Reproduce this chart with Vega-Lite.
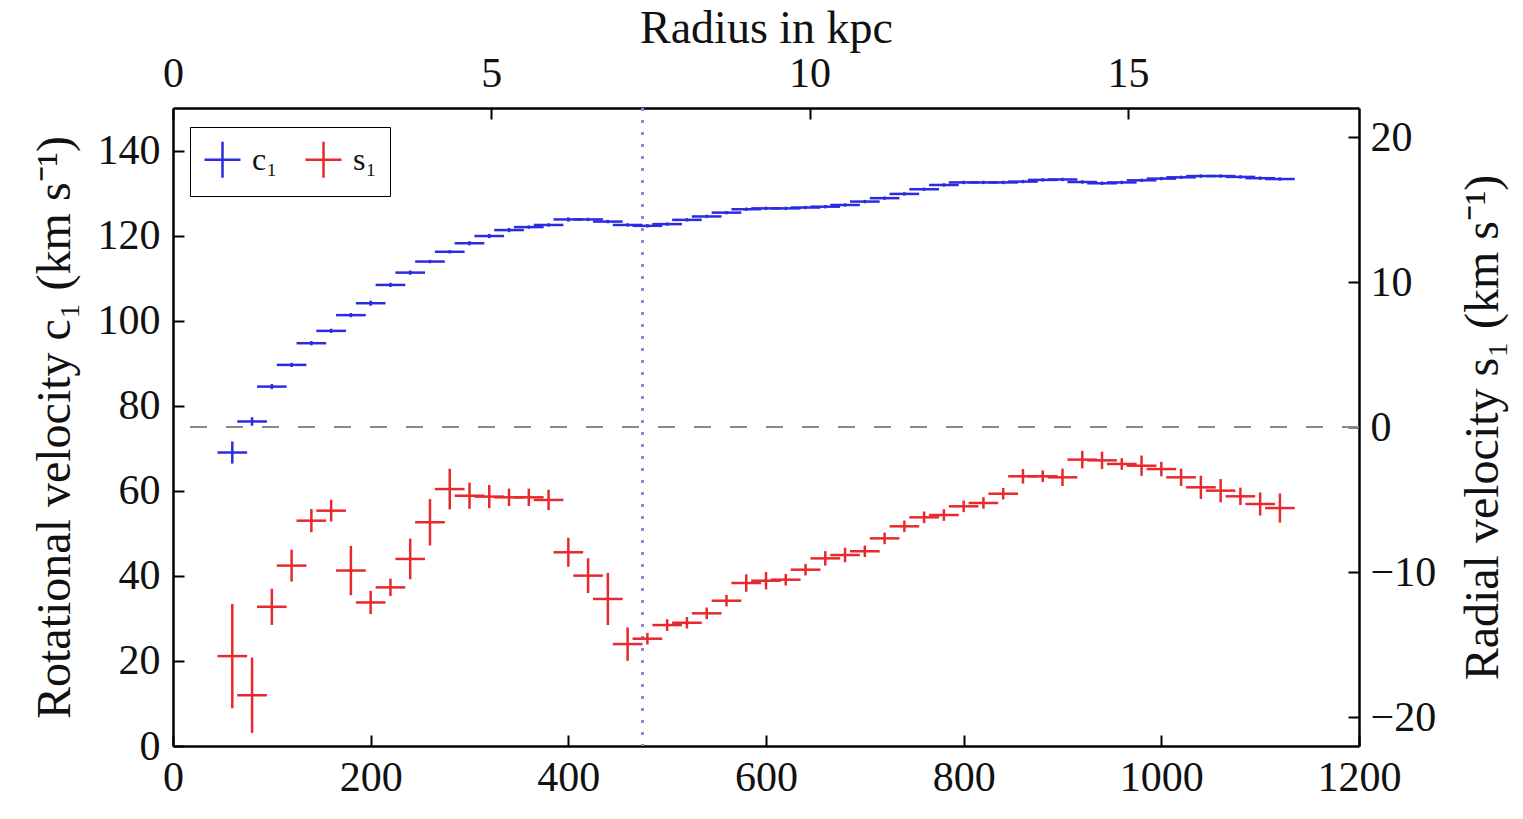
{
  "$schema": "https://vega.github.io/schema/vega-lite/v6.json",
  "autosize": {"type": "none"},
  "padding": {"left": 173, "top": 108, "right": 164, "bottom": 73},
  "width": 1186,
  "height": 638,
  "background": "white",
  "config": {
    "font": "Liberation Serif",
    "view": {"stroke": null},
    "axis": {
      "grid": false,
      "domainColor": "black",
      "domainWidth": 2.5,
      "tickColor": "black",
      "tickWidth": 2,
      "tickSize": -11,
      "labelFontSize": 42,
      "labelColor": "#111111",
      "labelFlush": false,
      "labelOverlap": false,
      "titleFontSize": 48,
      "titleFontWeight": "normal",
      "titleColor": "#111111"
    }
  },
  "data": {
    "values": [
      {"r": 60, "xe": 15, "c1": 69.0, "c1e": 2.6, "s1": -15.8, "s1e": 3.6},
      {"r": 80, "xe": 15, "c1": 76.3, "c1e": 1.0, "s1": -18.5, "s1e": 2.6},
      {"r": 100, "xe": 15, "c1": 84.5, "c1e": 0.6, "s1": -12.4, "s1e": 1.25},
      {"r": 120, "xe": 15, "c1": 89.6, "c1e": 0.5, "s1": -9.56, "s1e": 1.1},
      {"r": 140, "xe": 15, "c1": 94.7, "c1e": 0.5, "s1": -6.46, "s1e": 0.8},
      {"r": 160, "xe": 15, "c1": 97.6, "c1e": 0.5, "s1": -5.77, "s1e": 0.75},
      {"r": 180, "xe": 15, "c1": 101.3, "c1e": 0.5, "s1": -9.9, "s1e": 1.7},
      {"r": 200, "xe": 15, "c1": 104.1, "c1e": 0.6, "s1": -12.1, "s1e": 0.8},
      {"r": 220, "xe": 15, "c1": 108.4, "c1e": 0.5, "s1": -11.06, "s1e": 0.6},
      {"r": 240, "xe": 15, "c1": 111.3, "c1e": 0.5, "s1": -9.1, "s1e": 1.4},
      {"r": 260, "xe": 15, "c1": 113.9, "c1e": 0.4, "s1": -6.57, "s1e": 1.6},
      {"r": 280, "xe": 15, "c1": 116.2, "c1e": 0.4, "s1": -4.28, "s1e": 1.4},
      {"r": 300, "xe": 15, "c1": 118.2, "c1e": 0.5, "s1": -4.74, "s1e": 0.9},
      {"r": 320, "xe": 15, "c1": 119.9, "c1e": 0.5, "s1": -4.8, "s1e": 0.8},
      {"r": 340, "xe": 15, "c1": 121.3, "c1e": 0.5, "s1": -4.85, "s1e": 0.6},
      {"r": 360, "xe": 15, "c1": 122.0, "c1e": 0.4, "s1": -4.85, "s1e": 0.6},
      {"r": 380, "xe": 15, "c1": 122.5, "c1e": 0.4, "s1": -5.03, "s1e": 0.7},
      {"r": 400, "xe": 15, "c1": 123.8, "c1e": 0.5, "s1": -8.64, "s1e": 1.0},
      {"r": 420, "xe": 15, "c1": 123.8, "c1e": 0.4, "s1": -10.25, "s1e": 1.2},
      {"r": 440, "xe": 15, "c1": 123.3, "c1e": 0.4, "s1": -11.86, "s1e": 1.8},
      {"r": 460, "xe": 15, "c1": 122.5, "c1e": 0.4, "s1": -14.97, "s1e": 1.15},
      {"r": 480, "xe": 15, "c1": 122.3, "c1e": 0.4, "s1": -14.6, "s1e": 0.4},
      {"r": 500, "xe": 15, "c1": 122.7, "c1e": 0.4, "s1": -13.66, "s1e": 0.4},
      {"r": 520, "xe": 15, "c1": 123.7, "c1e": 0.4, "s1": -13.5, "s1e": 0.4},
      {"r": 540, "xe": 15, "c1": 124.5, "c1e": 0.4, "s1": -12.85, "s1e": 0.4},
      {"r": 560, "xe": 15, "c1": 125.4, "c1e": 0.4, "s1": -11.98, "s1e": 0.4},
      {"r": 580, "xe": 15, "c1": 126.2, "c1e": 0.4, "s1": -10.76, "s1e": 0.6},
      {"r": 600, "xe": 15, "c1": 126.4, "c1e": 0.4, "s1": -10.6, "s1e": 0.6},
      {"r": 620, "xe": 15, "c1": 126.4, "c1e": 0.4, "s1": -10.53, "s1e": 0.4},
      {"r": 640, "xe": 15, "c1": 126.6, "c1e": 0.4, "s1": -9.84, "s1e": 0.4},
      {"r": 660, "xe": 15, "c1": 126.8, "c1e": 0.4, "s1": -9.06, "s1e": 0.5},
      {"r": 680, "xe": 15, "c1": 127.2, "c1e": 0.4, "s1": -8.83, "s1e": 0.5},
      {"r": 700, "xe": 15, "c1": 128.0, "c1e": 0.4, "s1": -8.57, "s1e": 0.4},
      {"r": 720, "xe": 15, "c1": 128.8, "c1e": 0.4, "s1": -7.68, "s1e": 0.4},
      {"r": 740, "xe": 15, "c1": 129.8, "c1e": 0.4, "s1": -6.85, "s1e": 0.4},
      {"r": 760, "xe": 15, "c1": 130.9, "c1e": 0.4, "s1": -6.23, "s1e": 0.4},
      {"r": 780, "xe": 15, "c1": 131.9, "c1e": 0.4, "s1": -6.07, "s1e": 0.4},
      {"r": 800, "xe": 15, "c1": 132.5, "c1e": 0.4, "s1": -5.47, "s1e": 0.4},
      {"r": 820, "xe": 15, "c1": 132.5, "c1e": 0.4, "s1": -5.24, "s1e": 0.4},
      {"r": 840, "xe": 15, "c1": 132.5, "c1e": 0.4, "s1": -4.6, "s1e": 0.4},
      {"r": 860, "xe": 15, "c1": 132.7, "c1e": 0.4, "s1": -3.4, "s1e": 0.5},
      {"r": 880, "xe": 15, "c1": 133.1, "c1e": 0.4, "s1": -3.4, "s1e": 0.4},
      {"r": 900, "xe": 15, "c1": 133.2, "c1e": 0.4, "s1": -3.47, "s1e": 0.6},
      {"r": 920, "xe": 15, "c1": 132.6, "c1e": 0.4, "s1": -2.25, "s1e": 0.6},
      {"r": 940, "xe": 15, "c1": 132.3, "c1e": 0.4, "s1": -2.3, "s1e": 0.6},
      {"r": 960, "xe": 15, "c1": 132.5, "c1e": 0.4, "s1": -2.55, "s1e": 0.4},
      {"r": 980, "xe": 15, "c1": 133.0, "c1e": 0.4, "s1": -2.67, "s1e": 0.7},
      {"r": 1000, "xe": 15, "c1": 133.4, "c1e": 0.4, "s1": -2.9, "s1e": 0.5},
      {"r": 1020, "xe": 15, "c1": 133.7, "c1e": 0.4, "s1": -3.47, "s1e": 0.6},
      {"r": 1040, "xe": 15, "c1": 134.0, "c1e": 0.4, "s1": -4.16, "s1e": 0.8},
      {"r": 1060, "xe": 15, "c1": 134.0, "c1e": 0.4, "s1": -4.39, "s1e": 0.8},
      {"r": 1080, "xe": 15, "c1": 133.8, "c1e": 0.4, "s1": -4.78, "s1e": 0.6},
      {"r": 1100, "xe": 15, "c1": 133.5, "c1e": 0.4, "s1": -5.31, "s1e": 0.8},
      {"r": 1120, "xe": 15, "c1": 133.3, "c1e": 0.4, "s1": -5.59, "s1e": 1.0}
    ]
  },
  "layer": [
    {
      "mark": {"type": "rule", "color": "#8a8ad6", "strokeWidth": 2.5, "strokeDash": [3, 9]},
      "encoding": {
        "x": {"datum": 475, "type": "quantitative", "scale": {"domain": [0, 1200], "nice": false, "zero": false}, "axis": null}
      }
    },
    {
      "mark": {"type": "errorbar", "thickness": 2.5, "ticks": false},
      "encoding": {
        "x": {"field": "r", "type": "quantitative", "scale": {"domain": [0, 1200], "nice": false, "zero": false},
              "axis": {"orient": "bottom", "values": [0, 200, 400, 600, 800, 1000, 1200], "format": "d", "title": null, "labelPadding": 22}},
        "xError": {"field": "xe"},
        "y": {"field": "c1", "type": "quantitative", "scale": {"domain": [0, 150], "nice": false, "zero": false},
              "axis": {"orient": "left", "values": [0, 20, 40, 60, 80, 100, 120, 140], "title": "Rotational velocity c₁ (km s⁻¹)", "labelPadding": 24, "titlePadding": 18}},
        "color": {"datum": "c₁", "type": "nominal",
                  "scale": {"domain": ["c₁", "s₁"], "range": ["#2b2be0", "#e8282d"]},
                  "legend": {"orient": "none", "legendX": 17, "legendY": 19, "direction": "horizontal", "title": null,
                             "strokeColor": "black", "padding": 13, "fillColor": "white",
                             "symbolType": "M-1,0H1M0,-1V1", "symbolSize": 1296, "symbolStrokeWidth": 2.5,
                             "symbolFillColor": "transparent", "labelFontSize": 32, "labelOffset": 10,
                             "columnPadding": 22, "labelFont": "Liberation Serif", "labelColor": "#111111"}}
      }
    },
    {
      "mark": {"type": "errorbar", "thickness": 2.5, "ticks": false},
      "encoding": {
        "x": {"field": "r", "type": "quantitative", "scale": {"domain": [0, 1200], "nice": false, "zero": false}, "axis": null},
        "y": {"field": "c1", "type": "quantitative", "scale": {"domain": [0, 150], "nice": false, "zero": false}, "axis": null},
        "yError": {"field": "c1e"},
        "color": {"datum": "c₁", "type": "nominal"}
      }
    },
    {
      "mark": {"type": "rule", "color": "#888888", "strokeWidth": 2, "strokeDash": [17, 19]},
      "encoding": {
        "y": {"datum": 0, "type": "quantitative", "scale": {"domain": [-22, 22], "nice": false, "zero": false}, "axis": null}
      }
    },
    {
      "mark": {"type": "errorbar", "thickness": 2.5, "ticks": false},
      "encoding": {
        "x": {"field": "r", "type": "quantitative", "scale": {"domain": [0, 1200], "nice": false, "zero": false}, "axis": null},
        "xError": {"field": "xe"},
        "y": {"field": "s1", "type": "quantitative", "scale": {"domain": [-22, 22], "nice": false, "zero": false},
              "axis": {"orient": "right", "values": [-20, -10, 0, 10, 20], "title": "Radial velocity s₁ (km s⁻¹)", "titleAngle": 270, "labelPadding": 22, "titlePadding": 72}},
        "color": {"datum": "s₁", "type": "nominal"}
      }
    },
    {
      "mark": {"type": "errorbar", "thickness": 2.5, "ticks": false},
      "encoding": {
        "x": {"field": "r", "type": "quantitative", "scale": {"domain": [0, 1200], "nice": false, "zero": false}, "axis": null},
        "y": {"field": "s1", "type": "quantitative", "scale": {"domain": [-22, 22], "nice": false, "zero": false}, "axis": null},
        "yError": {"field": "s1e"},
        "color": {"datum": "s₁", "type": "nominal"}
      }
    },
    {
      "data": {"values": [{"kpc": 0}, {"kpc": 5}, {"kpc": 10}, {"kpc": 15}]},
      "mark": {"type": "rule", "strokeOpacity": 0},
      "encoding": {
        "x": {"field": "kpc", "type": "quantitative", "scale": {"domain": [0, 18.63], "nice": false, "zero": false},
              "axis": {"orient": "top", "values": [0, 5, 10, 15], "title": "Radius in kpc", "titleFontSize": 46, "labelPadding": 24, "titlePadding": 0}}
      }
    }
  ],
  "resolve": {"scale": {"x": "independent", "y": "independent"}}
}
